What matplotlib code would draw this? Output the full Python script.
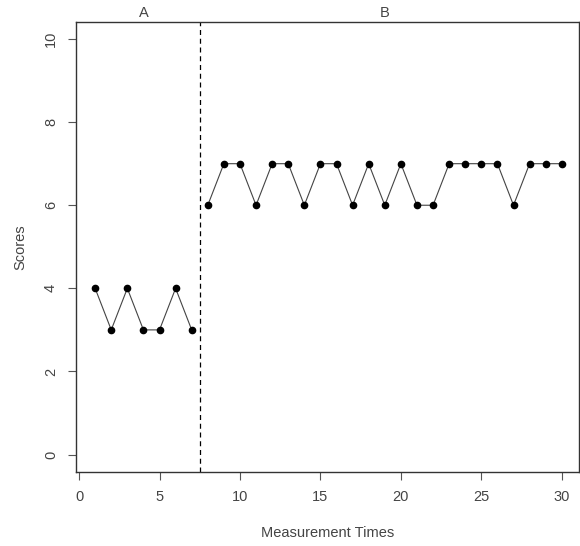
import matplotlib; matplotlib.use("Agg")
import matplotlib.pyplot as plt

plt.rcParams['font.family'] = ['Liberation Sans', 'DejaVu Sans']

xa = [1, 2, 3, 4, 5, 6, 7]
ya = [4, 3, 4, 3, 3, 4, 3]
xb = list(range(8, 31))
yb = [6, 7, 7, 6, 7, 7, 6, 7, 7, 6, 7, 6, 7, 6, 6, 7, 7, 7, 7, 6, 7, 7, 7]
phase_names = ["A", "B"]
phase_break = 7.5

fig = plt.figure(figsize=(5.8, 5.46), dpi=100)
ax = fig.add_axes([76/580, (546-472)/546, (579-76)/580, (472-22)/546])
TXT = "#444444"
for x, y in ((xa, ya), (xb, yb)):
    ax.plot(x, y, color="#444444", lw=0.8, zorder=2)
    ax.plot(x, y, "o", color="black", ms=4.5, zorder=3)
ax.axvline(phase_break, color="black", ls=(0, (4, 3)), lw=0.9)
ax.set_xlim(-0.19, 31.07); ax.set_ylim(-0.42, 10.41)
ax.set_xticks(range(0, 31, 5)); ax.set_yticks(range(0, 11, 2))
ax.tick_params(direction="out", length=6, width=0.8, color="#555555", labelcolor=TXT, labelsize=10.5, pad=7)
for lb in ax.get_yticklabels():
    lb.set_rotation(90); lb.set_va("center")
for s in ax.spines.values():
    s.set_color("#333333"); s.set_linewidth(1)
ax.set_xlabel("Measurement Times", color=TXT, fontsize=10.5, labelpad=16)
ax.set_ylabel("Scores", color=TXT, fontsize=10.5, labelpad=12)
ax.text(sum(xa)/len(xa), 1.005, phase_names[0], transform=ax.get_xaxis_transform(), ha="center", va="bottom", color=TXT, fontsize=10.5)
ax.text(sum(xb)/len(xb), 1.005, phase_names[1], transform=ax.get_xaxis_transform(), ha="center", va="bottom", color=TXT, fontsize=10.5)
fig.savefig("out.png", dpi=100)
